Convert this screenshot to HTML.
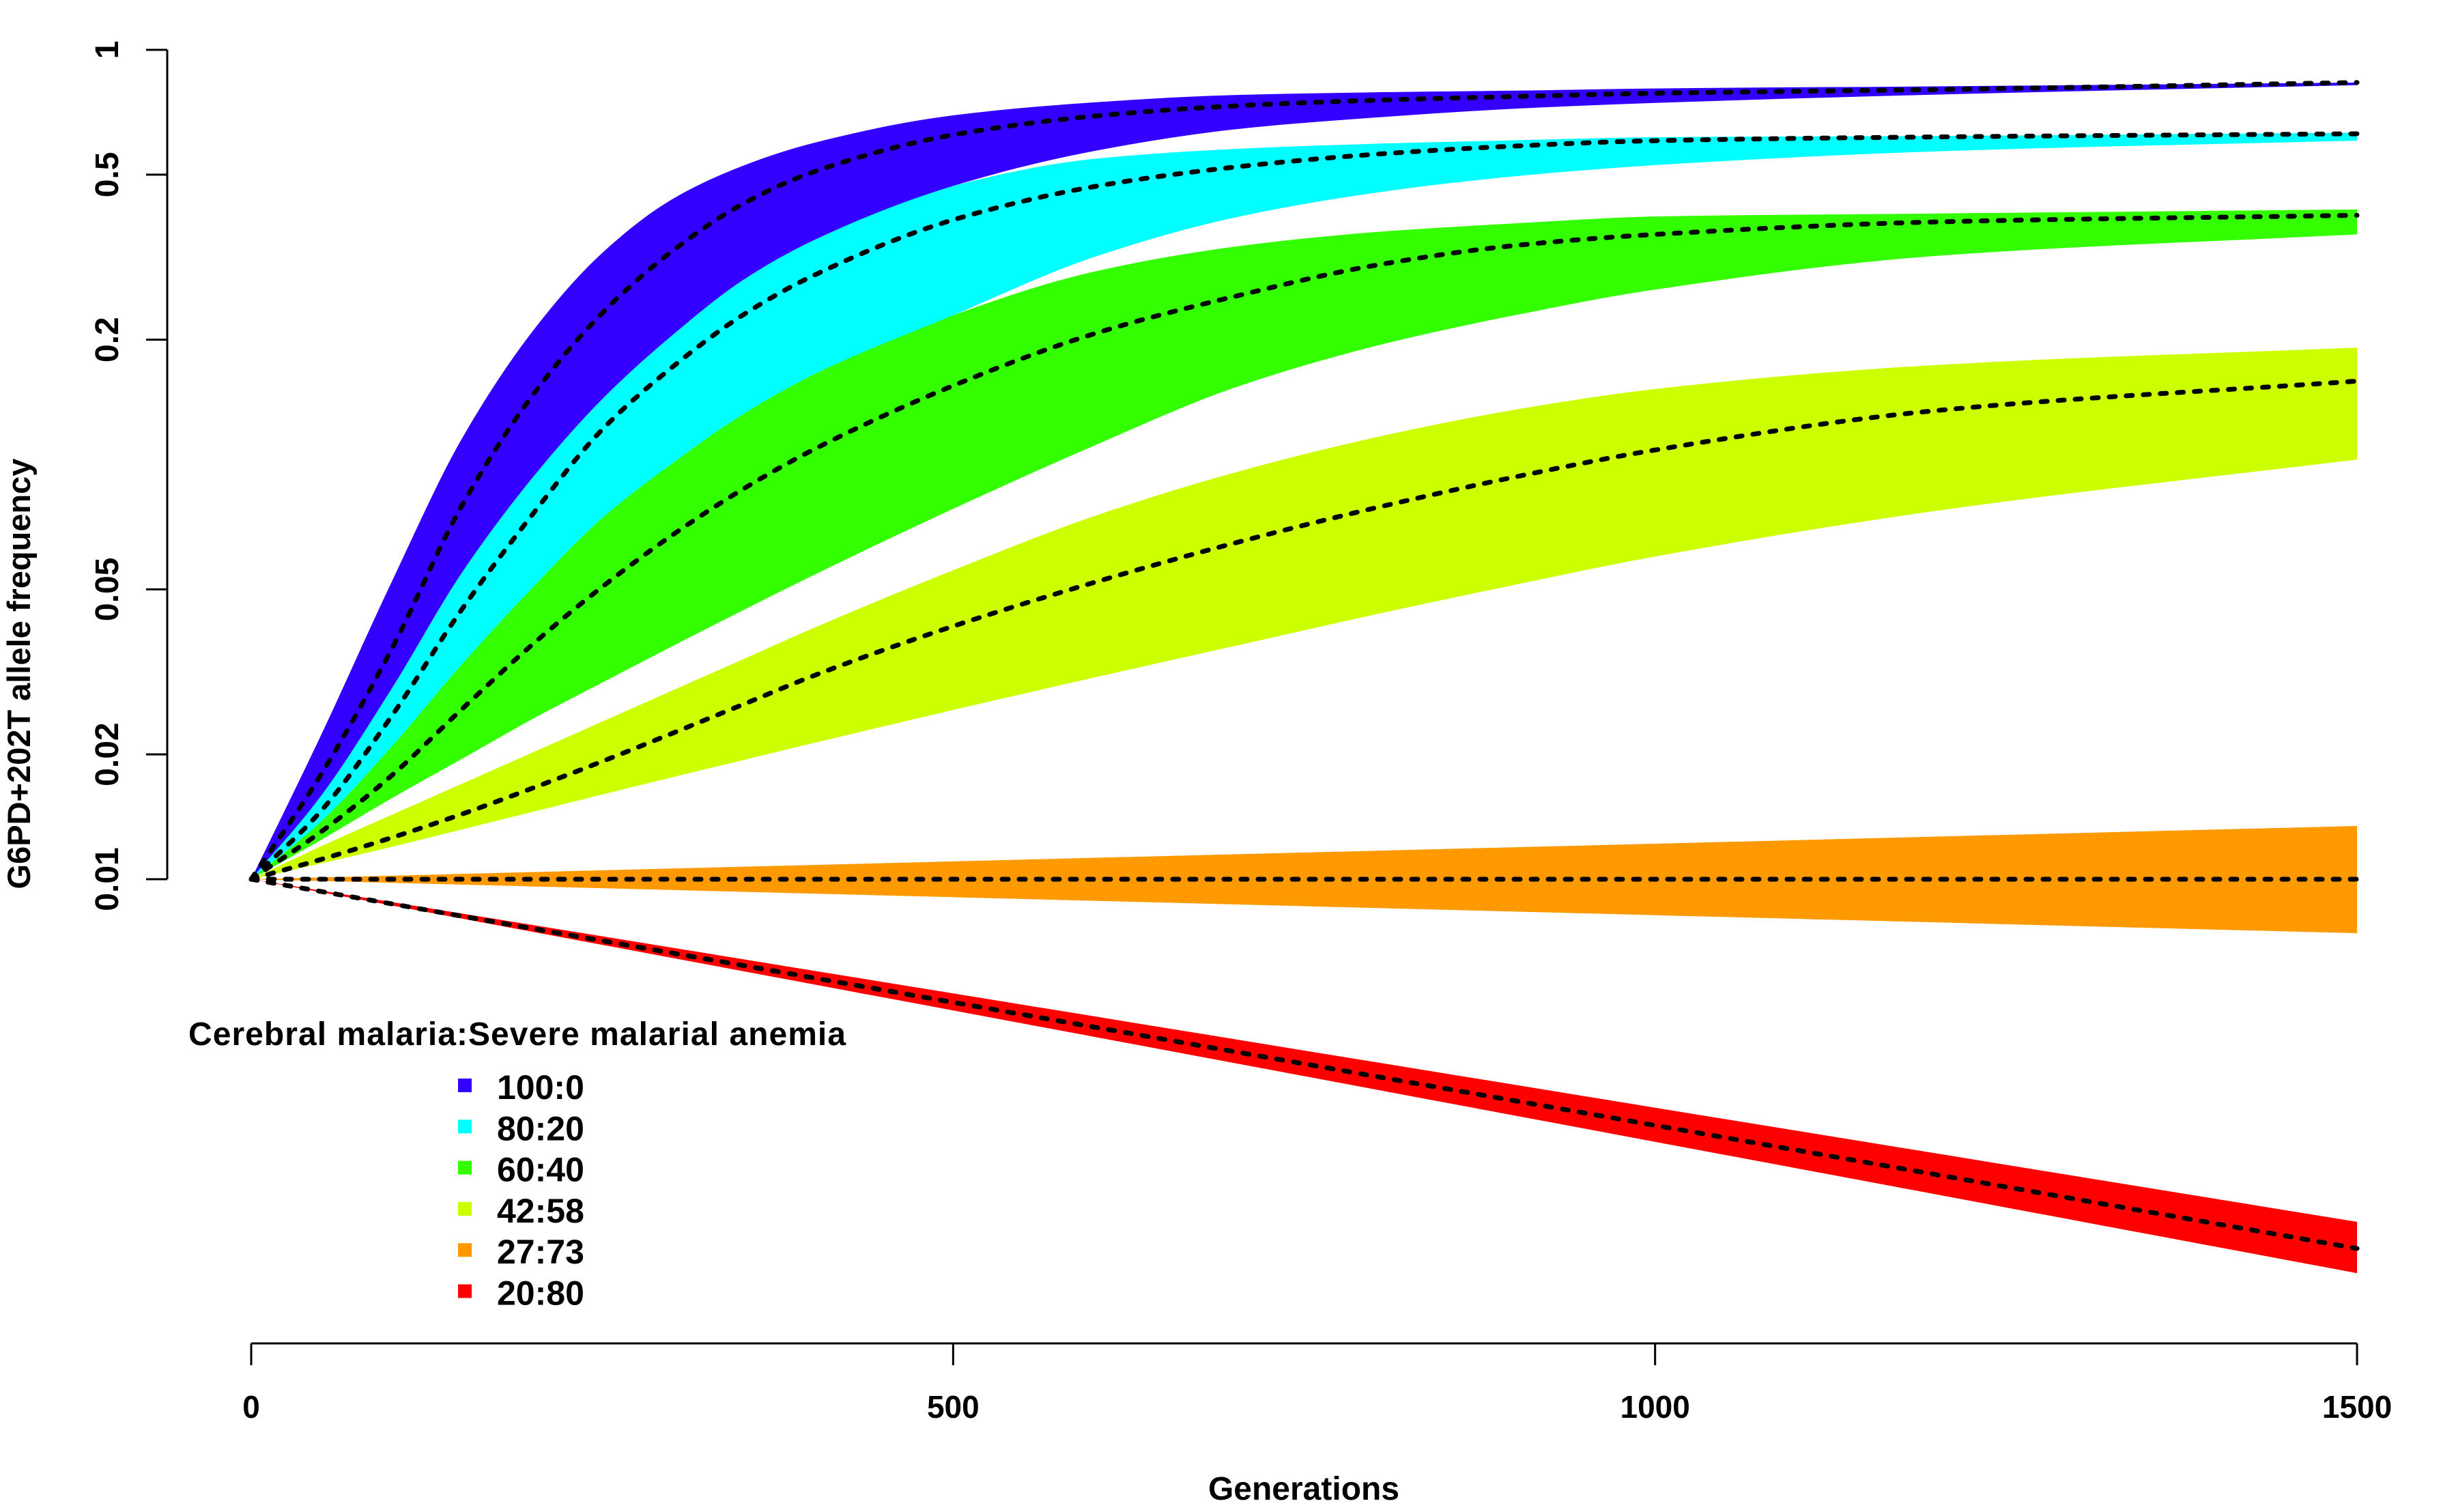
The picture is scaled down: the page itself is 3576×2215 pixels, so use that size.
<!DOCTYPE html>
<html><head><meta charset="utf-8"><style>
html,body{margin:0;padding:0;background:#fff}
svg{display:block}
text{font-family:"Liberation Sans",Arial,sans-serif;font-weight:bold;fill:#000}
</style></head><body>
<svg id="chart" width="3576" height="2215" viewBox="0 0 3576 2215" xmlns="http://www.w3.org/2000/svg">
<g id="bands"></g>
<g id="lines"></g>
<g id="axes"></g>
<g id="legend"></g>
</svg>
<script>
const gens = [0,50,100,150,200,250,300,350,400,500,600,700,800,900,1000,1200,1500];
const blueUpper = [0.01,0.02234,0.05208,0.1153,0.2086,0.3237,0.4365,0.5248,0.5957,0.695,0.7468,0.778,0.790,0.7971,0.807,0.8166,0.834];
const blueMid   = [0.01,0.01794,0.03589,0.0795,0.1462,0.2317,0.3273,0.4246,0.507,0.6237,0.6918,0.7324,0.7557,0.7717,0.7857,0.802,0.834];
const blueLower = [0.01,0.01593,0.02879,0.0548,0.0926,0.1437,0.2051,0.278,0.3465,0.4697,0.5697,0.6428,0.6863,0.7211,0.7447,0.7798,0.8222];
const cyanUpper = [0.01,0.01593,0.02879,0.0548,0.0926,0.1437,0.2051,0.278,0.3465,0.4697,0.5456,0.5766,0.5935,0.6051,0.6155,0.62,0.6311];
const cyanMid   = [0.01,0.01464,0.02473,0.04472,0.0755,0.1214,0.1718,0.2291,0.2851,0.3890,0.4677,0.5212,0.5598,0.5861,0.6039,0.6166,0.6274];
const cyanLower = [0.01,0.0138,0.02088,0.03298,0.05032,0.0743,0.1007,0.132,0.1644,0.2291,0.3162,0.3936,0.4519,0.4955,0.5272,0.5689,0.6039];
const greenUpper= [0.01,0.0138,0.02088,0.03298,0.05032,0.0743,0.1007,0.132,0.1644,0.2291,0.2917,0.335,0.3634,0.3814,0.3964,0.403,0.4123];
const greenMid  = [0.01,0.01303,0.01778,0.0257,0.03673,0.0507,0.0676,0.0871,0.1084,0.1549,0.2065,0.2541,0.3020,0.3373,0.3589,0.3846,0.3990];
const greenLower= [0.01,0.01245,0.01567,0.0195,0.0243,0.02979,0.03648,0.04446,0.0540,0.0782,0.1109,0.1531,0.1928,0.2291,0.2642,0.3184,0.3589];
const yellowUpper=[0.01,0.01202,0.01429,0.01698,0.02018,0.02399,0.02851,0.03388,0.04027,0.0556,0.0750,0.0955,0.1161,0.1355,0.1521,0.1738,0.1914];
const yellowMid = [0.01,0.01117,0.01259,0.01435,0.01656,0.01923,0.02249,0.02636,0.0309,0.04074,0.0519,0.0646,0.0785,0.0933,0.1084,0.1349,0.1589];
const yellowLower=[0.01,0.01092,0.01197,0.01318,0.01452,0.016,0.01762,0.01936,0.02128,0.02559,0.03062,0.03648,0.04345,0.05129,0.0600,0.0773,0.1028];
const gens2 = [0,500,1000,1500];
const orangeUpper=[0.01,0.01104,0.01218,0.01344];
const orangeMid  =[0.01,0.01,0.01,0.01];
const orangeLower=[0.01,0.00905,0.00819,0.00741];
const redUpper = [0.01,0.005305,0.002812,0.001492];
const redMid   = [0.01,0.005048,0.002549,0.001287];
const redLower = [0.01,0.004824,0.002327,0.001122];
const legendLabels = ["100:0","80:20","60:40","42:58","27:73","20:80"];
const xTicks = [0,500,1000,1500];
const yTicks = [0.01,0.02,0.05,0.2,0.5,1];
const yTickLabels = ["0.01","0.02","0.05","0.2","0.5","1"];

const NS="http://www.w3.org/2000/svg";
const X0=368,X1=3453,Y1v=73,DEC=607.5;
function xS(g){return X0+g*(X1-X0)/1500;}
function yS(v){return Y1v-Math.log10(v)*DEC;}
function mk(tag,parent){const e=document.createElementNS(NS,tag);parent.appendChild(e);return e;}
function tangents(p){
  const n=p.length,d=[],m=[];
  for(let i=0;i<n-1;i++)d.push((p[i+1][1]-p[i][1])/(p[i+1][0]-p[i][0]));
  m[0]=d[0];m[n-1]=d[n-2];
  for(let i=1;i<n-1;i++){
    if(d[i-1]*d[i]<=0)m[i]=0;
    else{const h0=p[i][0]-p[i-1][0],h1=p[i+1][0]-p[i][0];
      const w1=2*h1+h0,w2=h1+2*h0;
      m[i]=(w1+w2)/(w1/d[i-1]+w2/d[i]);}
  }
  return m;
}
function curve(p,start){
  const m=tangents(p);
  let d=(start?"M":"L")+p[0][0].toFixed(1)+","+p[0][1].toFixed(1);
  for(let i=0;i<p.length-1;i++){
    const h=(p[i+1][0]-p[i][0])/3;
    d+="C"+(p[i][0]+h).toFixed(1)+","+(p[i][1]+m[i]*h).toFixed(1)+" "+(p[i+1][0]-h).toFixed(1)+","+(p[i+1][1]-m[i+1]*h).toFixed(1)+" "+p[i+1][0].toFixed(1)+","+p[i+1][1].toFixed(1);
  }
  return d;
}
function curveRev(p){
  const m=tangents(p);
  let d="L"+p[p.length-1][0].toFixed(1)+","+p[p.length-1][1].toFixed(1);
  for(let i=p.length-1;i>0;i--){
    const h=(p[i][0]-p[i-1][0])/3;
    d+="C"+(p[i][0]-h).toFixed(1)+","+(p[i][1]-m[i]*h).toFixed(1)+" "+(p[i-1][0]+h).toFixed(1)+","+(p[i-1][1]+m[i-1]*h).toFixed(1)+" "+p[i-1][0].toFixed(1)+","+p[i-1][1].toFixed(1);
  }
  return d;
}
function pts(g,v){return g.map((x,i)=>[xS(x),yS(v[i])]);}
const series=[
 {n:"red",c:"#FF0000",g:gens2,u:redUpper,m:redMid,l:redLower},
 {n:"orange",c:"#FF9900",g:gens2,u:orangeUpper,m:orangeMid,l:orangeLower},
 {n:"yellow",c:"#CCFF00",g:gens,u:yellowUpper,m:yellowMid,l:yellowLower},
 {n:"green",c:"#33FF00",g:gens,u:greenUpper,m:greenMid,l:greenLower},
 {n:"cyan",c:"#00FFFF",g:gens,u:cyanUpper,m:cyanMid,l:cyanLower},
 {n:"blue",c:"#3300FF",g:gens,u:blueUpper,m:blueMid,l:blueLower}
];
const bands=document.getElementById('bands'),lines=document.getElementById('lines');
series.forEach(s=>{
  const p=mk('path',bands);
  p.setAttribute('d',curve(pts(s.g,s.u),true)+curveRev(pts(s.g,s.l))+"Z");
  p.setAttribute('fill',s.c);
  
  
});
series.forEach(s=>{
  const p=mk('path',lines);
  p.setAttribute('d',curve(pts(s.g,s.m),true));
  p.setAttribute('fill','none');p.setAttribute('stroke','#000');
  p.setAttribute('stroke-width','7');p.setAttribute('stroke-dasharray','9 16');
  p.setAttribute('stroke-linecap','round');
  
  
});
const axes=document.getElementById('axes');
let l=mk('line',axes);
l.setAttribute('x1',X0);l.setAttribute('x2',X1);l.setAttribute('y1',1968);l.setAttribute('y2',1968);
l.setAttribute('stroke','#000');l.setAttribute('stroke-width','3');


xTicks.forEach(t=>{
  const tk=mk('line',axes);
  tk.setAttribute('x1',xS(t));tk.setAttribute('x2',xS(t));tk.setAttribute('y1',1968);tk.setAttribute('y2',2000);
  tk.setAttribute('stroke','#000');tk.setAttribute('stroke-width','3');
  
  
  const tx=mk('text',axes);
  tx.setAttribute('x',xS(t));tx.setAttribute('y',2077);tx.setAttribute('text-anchor','middle');tx.setAttribute('font-size','46');
  tx.textContent=t;
  
  
});
l=mk('line',axes);
l.setAttribute('x1',245);l.setAttribute('x2',245);l.setAttribute('y1',yS(1));l.setAttribute('y2',yS(0.01));
l.setAttribute('stroke','#000');l.setAttribute('stroke-width','3');


yTicks.forEach((t,i)=>{
  const y=yS(t);
  const tk=mk('line',axes);
  tk.setAttribute('x1',214);tk.setAttribute('x2',245);tk.setAttribute('y1',y);tk.setAttribute('y2',y);
  tk.setAttribute('stroke','#000');tk.setAttribute('stroke-width','3');
  
  
  const tx=mk('text',axes);
  tx.setAttribute('transform','translate(173,'+y+') rotate(-90)');
  tx.setAttribute('text-anchor','middle');tx.setAttribute('font-size','48');
  tx.textContent=yTickLabels[i];
  
  
});
let tt=mk('text',axes);
tt.setAttribute('x',1910);tt.setAttribute('y',2197);tt.setAttribute('text-anchor','middle');tt.setAttribute('font-size','48');
tt.textContent='Generations';


tt=mk('text',axes);
tt.setAttribute('transform','translate(44,987) rotate(-90)');tt.setAttribute('text-anchor','middle');tt.setAttribute('font-size','47');
tt.textContent='G6PD+202T allele frequency';


const lg=document.getElementById('legend');
tt=mk('text',lg);
tt.setAttribute('x',276);tt.setAttribute('y',1531);tt.setAttribute('font-size','48');tt.setAttribute('textLength','963');
tt.textContent='Cerebral malaria:Severe malarial anemia';


const legCols=["#3300FF","#00FFFF","#33FF00","#CCFF00","#FF9900","#FF0000"];
legendLabels.forEach((lab,i)=>{
  const cy=1590+i*60.3;
  const r=mk('rect',lg);
  r.setAttribute('x',671);r.setAttribute('y',cy-10);r.setAttribute('width',20);r.setAttribute('height',20);r.setAttribute('fill',legCols[i]);
  
  
  const t=mk('text',lg);
  t.setAttribute('x',728);t.setAttribute('y',cy+20);t.setAttribute('font-size','50');
  t.textContent=lab;
  
  
});
</script>
</body></html>
